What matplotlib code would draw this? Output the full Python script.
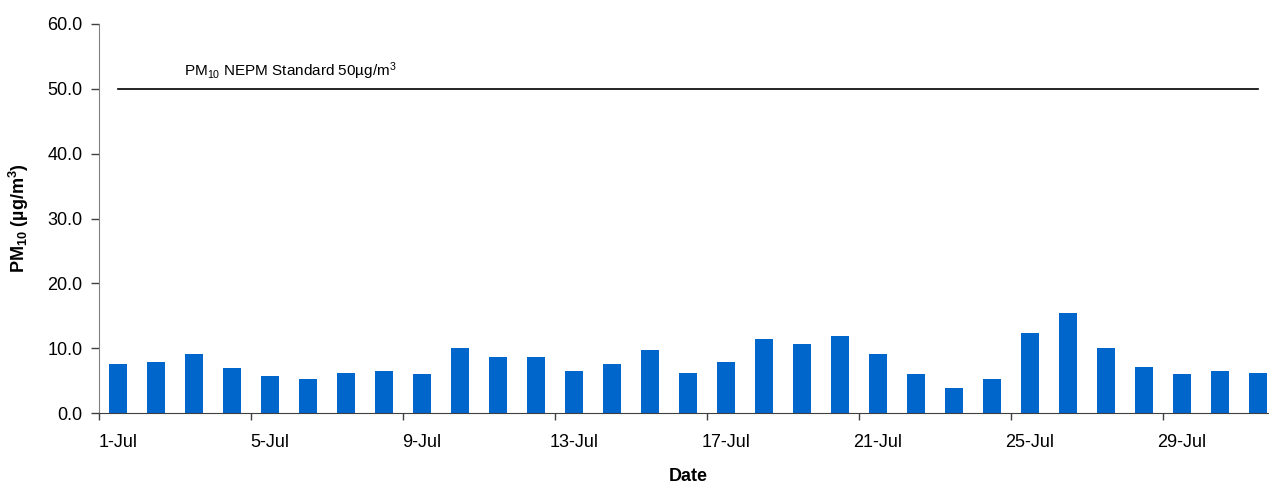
import matplotlib
matplotlib.use('Agg')
import matplotlib.pyplot as plt
import numpy as np

plt.rcParams['font.family'] = ['Liberation Sans', 'DejaVu Sans']
plt.rcParams['mathtext.default'] = 'regular'

# daily PM10, July
days = ['%d-Jul' % d for d in range(1, 32)]
pm10 = [7.6, 7.9, 9.1, 6.9, 5.7, 5.2, 6.2, 6.5, 6.0, 10.0,
        8.6, 8.6, 6.5, 7.6, 9.7, 6.2, 7.9, 11.4, 10.6, 11.9,
        9.1, 6.0, 3.9, 5.2, 12.3, 15.4, 10.0, 7.1, 6.0, 6.5, 6.2]
standard = [50.0] * len(days)
yticks = [0, 10, 20, 30, 40, 50, 60]

W, H = 1269, 483
fig = plt.figure(figsize=(W / 100, H / 100), dpi=100)
ax = fig.add_axes([99 / W, (H - 413) / H, (W - 99) / W, (413 - 24) / H])

x = np.arange(len(days))
ax.bar(x, pm10, width=0.47, color='#0066CC')
ax.plot(x, standard, color='black', lw=1.2)
ax.text(1.74, 52.0, 'PM$_{10}$ NEPM Standard 50µg/m$^3$', fontsize=11, va='baseline')

ax.set_xlim(-0.5, -0.5 + (W - 99) / 38)
ax.set_ylim(0, 60)
ax.set_yticks(yticks)
ax.set_yticklabels(['%.1f' % v for v in yticks])

# labels centred on days, tick marks on day boundaries
ax.set_xticks(x[::4])
ax.set_xticklabels(days[::4])
ax.set_xticks(x[::4] - 0.5, minor=True)
ax.tick_params(axis='x', which='major', length=0, pad=15, labelsize=13)
ax.tick_params(axis='x', which='minor', length=5, width=1, color='#404040', direction='out')
ax.tick_params(axis='y', length=6, width=1, color='#404040', pad=6, labelsize=13)

for s in ['top', 'right']:
    ax.spines[s].set_visible(False)
ax.spines['left'].set_color('#808080')
ax.spines['bottom'].set_color('#404040')

ax.set_xlabel('Date', fontsize=13, fontweight='bold')
ax.xaxis.set_label_coords((688 - 99) / (W - 99), -(468 - 413) / 389)
ax.set_ylabel('PM$_{10}$ (µg/m$^3$)', fontsize=13, fontweight='bold')
ax.yaxis.set_label_coords(-(99 - 31) / (W - 99), 0.5)

plt.savefig('out.png', dpi=100)
plt.close()
